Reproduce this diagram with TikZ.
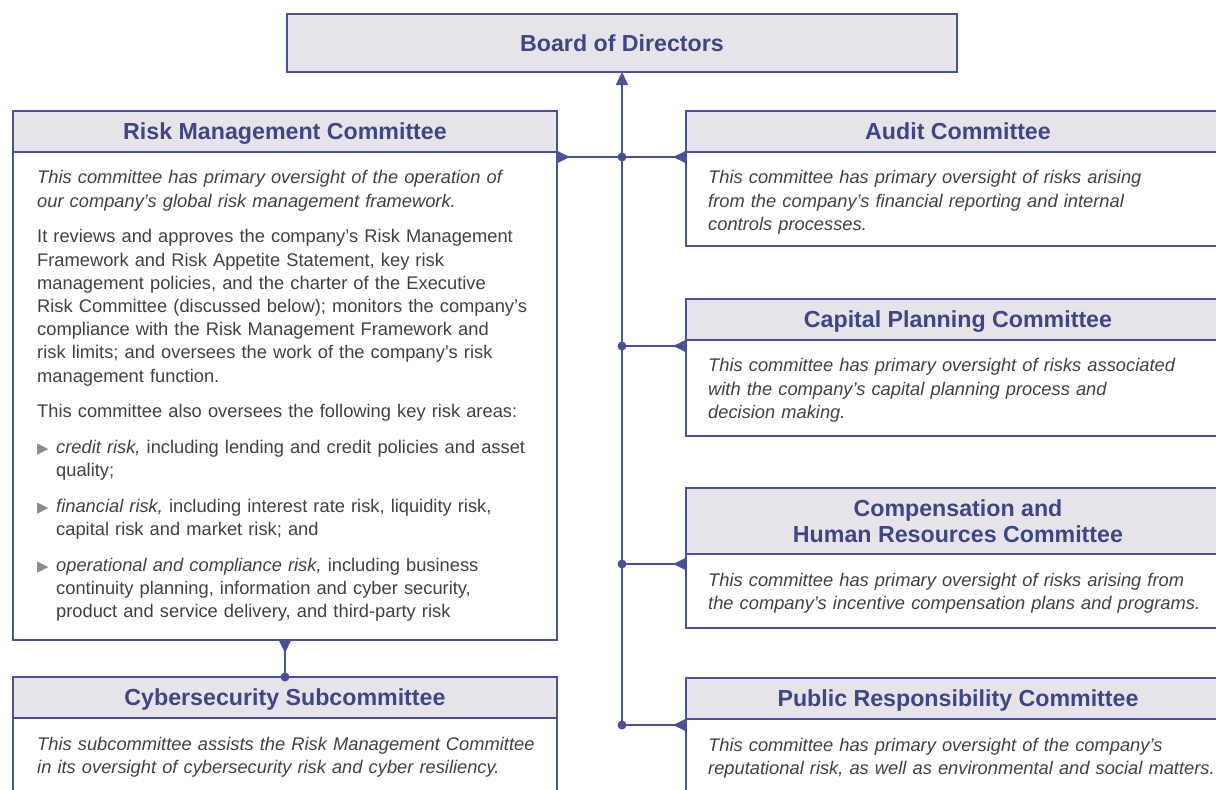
\documentclass[tikz,border=0pt]{standalone}
\usepackage{fontspec}
\setmainfont{Liberation Sans}
\newfontfamily\symfont{DejaVu Sans}
\usetikzlibrary{arrows.meta, positioning}
\definecolor{govBlue}{HTML}{4B5196}
\definecolor{govTitle}{HTML}{3D4687}
\definecolor{govHead}{HTML}{E6E4E8}
\definecolor{govText}{HTML}{404040}
\definecolor{govBullet}{HTML}{8C8C8C}
\newcommand{\bulletmark}{\textcolor{govBullet}{\symfont\fontsize{15}{15}\selectfont ▶}}
\newcommand{\riskitem}[1]{\hangindent=19pt\hangafter=1\makebox[19pt][l]{\bulletmark}#1\par}

\tikzset{
  headbox/.style={draw=govBlue, fill=govHead, line width=1.6pt, minimum width=544,
    inner sep=0pt, outer sep=0pt, align=center, text=govTitle, text depth=0pt,
    font=\fontsize{23.2}{26}\selectfont\bfseries},
  bodybox/.style={draw=govBlue, line width=1.6pt, minimum width=544,
    inner sep=0pt, outer sep=0pt},
  bodytext/.style={anchor=north west, inner sep=0pt, text=govText, text width=520pt,
    font=\fontsize{18.3}{23.2}\selectfont,
    execute at begin node={\setlength{\parindent}{0pt}\setlength{\parskip}{12.5pt}\raggedright}},
  link/.style={draw=govBlue, line width=1.8pt},
  govtip/.tip={Triangle[length=13pt, width=12pt]},
  govback/.tip={Triangle[length=13pt, width=12pt, reversed]}
}

\begin{document}
\begin{tikzpicture}[x=1pt, y=-1pt]
  \useasboundingbox (0,0) rectangle (1216,790);
  \clip (0,0) rectangle (1216,790);

  % board
  \node[headbox, minimum width=670, minimum height=58, anchor=north west] (board) at (287,14) {Board of Directors};

  % left column
  \node[headbox, minimum height=41, anchor=north west] (rmchead) at (13,111) {Risk Management Committee};
  \node[bodybox, minimum height=488, below=0pt of rmchead] (rmcbody) {};
  \node[bodytext] (rmctext) at ([xshift=24pt, yshift=-18.5pt]rmcbody.north west) {%
    \textit{This committee has primary oversight of the operation of\\
    our company’s global risk management framework.}\par
    It reviews and approves the company’s Risk Management\\
    Framework and Risk Appetite Statement, key risk\\
    management policies, and the charter of the Executive\\
    Risk Committee (discussed below); monitors the company’s\\
    compliance with the Risk Management Framework and\\
    risk limits; and oversees the work of the company’s risk\\
    management function.\par
    This committee also oversees the following key risk areas:\par
    \riskitem{\textit{credit risk,} including lending and credit policies and asset\newline quality;}
    \riskitem{\textit{financial risk,} including interest rate risk, liquidity risk,\newline capital risk and market risk; and}
    \riskitem{\textit{operational and compliance risk,} including business\newline continuity planning, information and cyber security,\newline product and service delivery, and third-party risk}
  };

  \node[headbox, minimum height=41, anchor=north west] (cyhead) at (13,677) {Cybersecurity Subcommittee};
  \node[bodybox, minimum height=120, below=0pt of cyhead] (cybody) {};
  \node[bodytext] (cytext) at ([xshift=24pt, yshift=-19pt]cybody.north west) {%
    \textit{This subcommittee assists the Risk Management Committee\\
    in its oversight of cybersecurity risk and cyber resiliency.}};

  % right column
  \node[headbox, minimum height=41, anchor=north west] (auhead) at (686,111) {Audit Committee};
  \node[bodybox, minimum height=94, below=0pt of auhead] (aubody) {};
  \node[bodytext] (autext) at ([xshift=22pt, yshift=-18.5pt]aubody.north west) {%
    \textit{This committee has primary oversight of risks arising\\
    from the company’s financial reporting and internal\\
    controls processes.}};

  \node[headbox, minimum height=41, anchor=north west] (cphead) at (686,299) {Capital Planning Committee};
  \node[bodybox, minimum height=96, below=0pt of cphead] (cpbody) {};
  \node[bodytext] (cptext) at ([xshift=22pt, yshift=-18.5pt]cpbody.north west) {%
    \textit{This committee has primary oversight of risks associated\\
    with the company’s capital planning process and\\
    decision making.}};

  \node[headbox, minimum height=66, anchor=north west] (cmphead) at (686,488) {Compensation and\\Human Resources Committee};
  \node[bodybox, minimum height=74, below=0pt of cmphead] (cmpbody) {};
  \node[bodytext] (cmptext) at ([xshift=22pt, yshift=-19pt]cmpbody.north west) {%
    \textit{This committee has primary oversight of risks arising from\\
    the company’s incentive compensation plans and programs.}};

  \node[headbox, minimum height=41, anchor=north west] (pubhead) at (686,678) {Public Responsibility Committee};
  \node[bodybox, minimum height=120, below=0pt of pubhead] (pubbody) {};
  \node[bodytext] (pubtext) at ([xshift=22pt, yshift=-19pt]pubbody.north west) {%
    \textit{This committee has primary oversight of the company’s\\
    reputational risk, as well as environmental and social matters.}};

  % connectors
  \coordinate (rmcout) at ([yshift=-5pt]rmcbody.north east);
  \coordinate (auin) at ([yshift=-5pt]aubody.north west);
  \coordinate (cpin) at ([yshift=-6pt]cpbody.north west);
  \coordinate (cmpin) at ([yshift=-10pt]cmpbody.north west);
  \coordinate (pubin) at ([yshift=-6pt]pubbody.north west);
  \coordinate (audot) at (auin -| board.south);
  \coordinate (cpdot) at (cpin -| board.south);
  \coordinate (cmpdot) at (cmpin -| board.south);
  \coordinate (pubdot) at (pubin -| board.south);

  \draw[link, -{govtip}] (pubdot) -- (board.south);
  \draw[link, {govback}-] (rmcout) -- (audot);
  \draw[link, -{govback}] (audot) -- (auin);
  \draw[link, -{govback}] (cpdot) -- (cpin);
  \draw[link, -{govback}] (cmpdot) -- (cmpin);
  \draw[link, -{govback}] (pubdot) -- (pubin);
  \draw[link, {govback}-] (rmcbody.south) -- (cyhead.north);
  \foreach \d in {audot, cpdot, cmpdot, pubdot, cyhead.north}
    \fill[govBlue] (\d) circle (4.5pt);
\end{tikzpicture}
\end{document}
